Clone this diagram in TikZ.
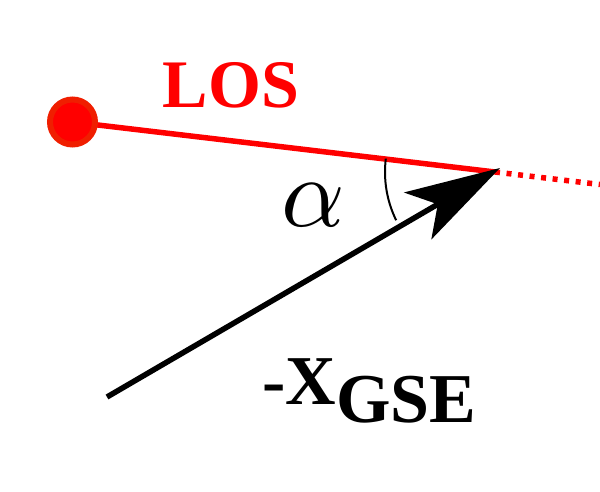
\documentclass[tikz,border=0pt]{standalone}
\usepackage{fontspec}
\setmainfont{Liberation Serif}[BoldFont={Liberation Serif Bold}]
\usetikzlibrary{arrows.meta}
\definecolor{dotborder}{HTML}{F01E00}
\tikzset{
  redline/.style={draw=red, line width=5.5pt},
  reddots/.style={draw=red, line width=5.5pt, dash pattern=on 5pt off 6.6pt},
  blackarrow/.style={draw=black, line width=5.5pt, -{Stealth[length=95pt,width=54pt,inset=23pt]}},
  anglearc/.style={draw=black, line width=2pt},
  lbl/.style={inner sep=0pt, anchor=base west}
}
\begin{document}
\begin{tikzpicture}[x=1pt,y=1pt]
\useasboundingbox (0,0) rectangle (600,491);
\coordinate (V) at (495,319);
\coordinate (E) at (600,306.5);
\coordinate (S) at (107,94);
\coordinate (T) at (500,323);
\path[redline] (72.5,369) -- (V);
\path[reddots] (V) -- (E);
\node[circle, fill=red, draw=dotborder, line width=6pt, minimum size=45pt, inner sep=0pt] (dot) at (72.5,369) {};
\path[blackarrow] (S) -- (T);
\draw[anglearc] (V) ++(173:110) arc[start angle=173, end angle=206, radius=110];
\node[lbl, text=red, font=\fontsize{68}{68}\bfseries\selectfont, anchor=base] (los) at (231,383) {LOS};
\node[lbl] (alpha) at (281,265) {\scalebox{9.9}{$\alpha$}};
\node[lbl, font=\fontsize{70}{70}\bfseries\selectfont] (x) at (262,87) {-X};
\node[lbl, font=\fontsize{70}{70}\bfseries\selectfont] (gse) at (x.base east) [yshift=-18pt] {GSE};
\end{tikzpicture}
\end{document}
